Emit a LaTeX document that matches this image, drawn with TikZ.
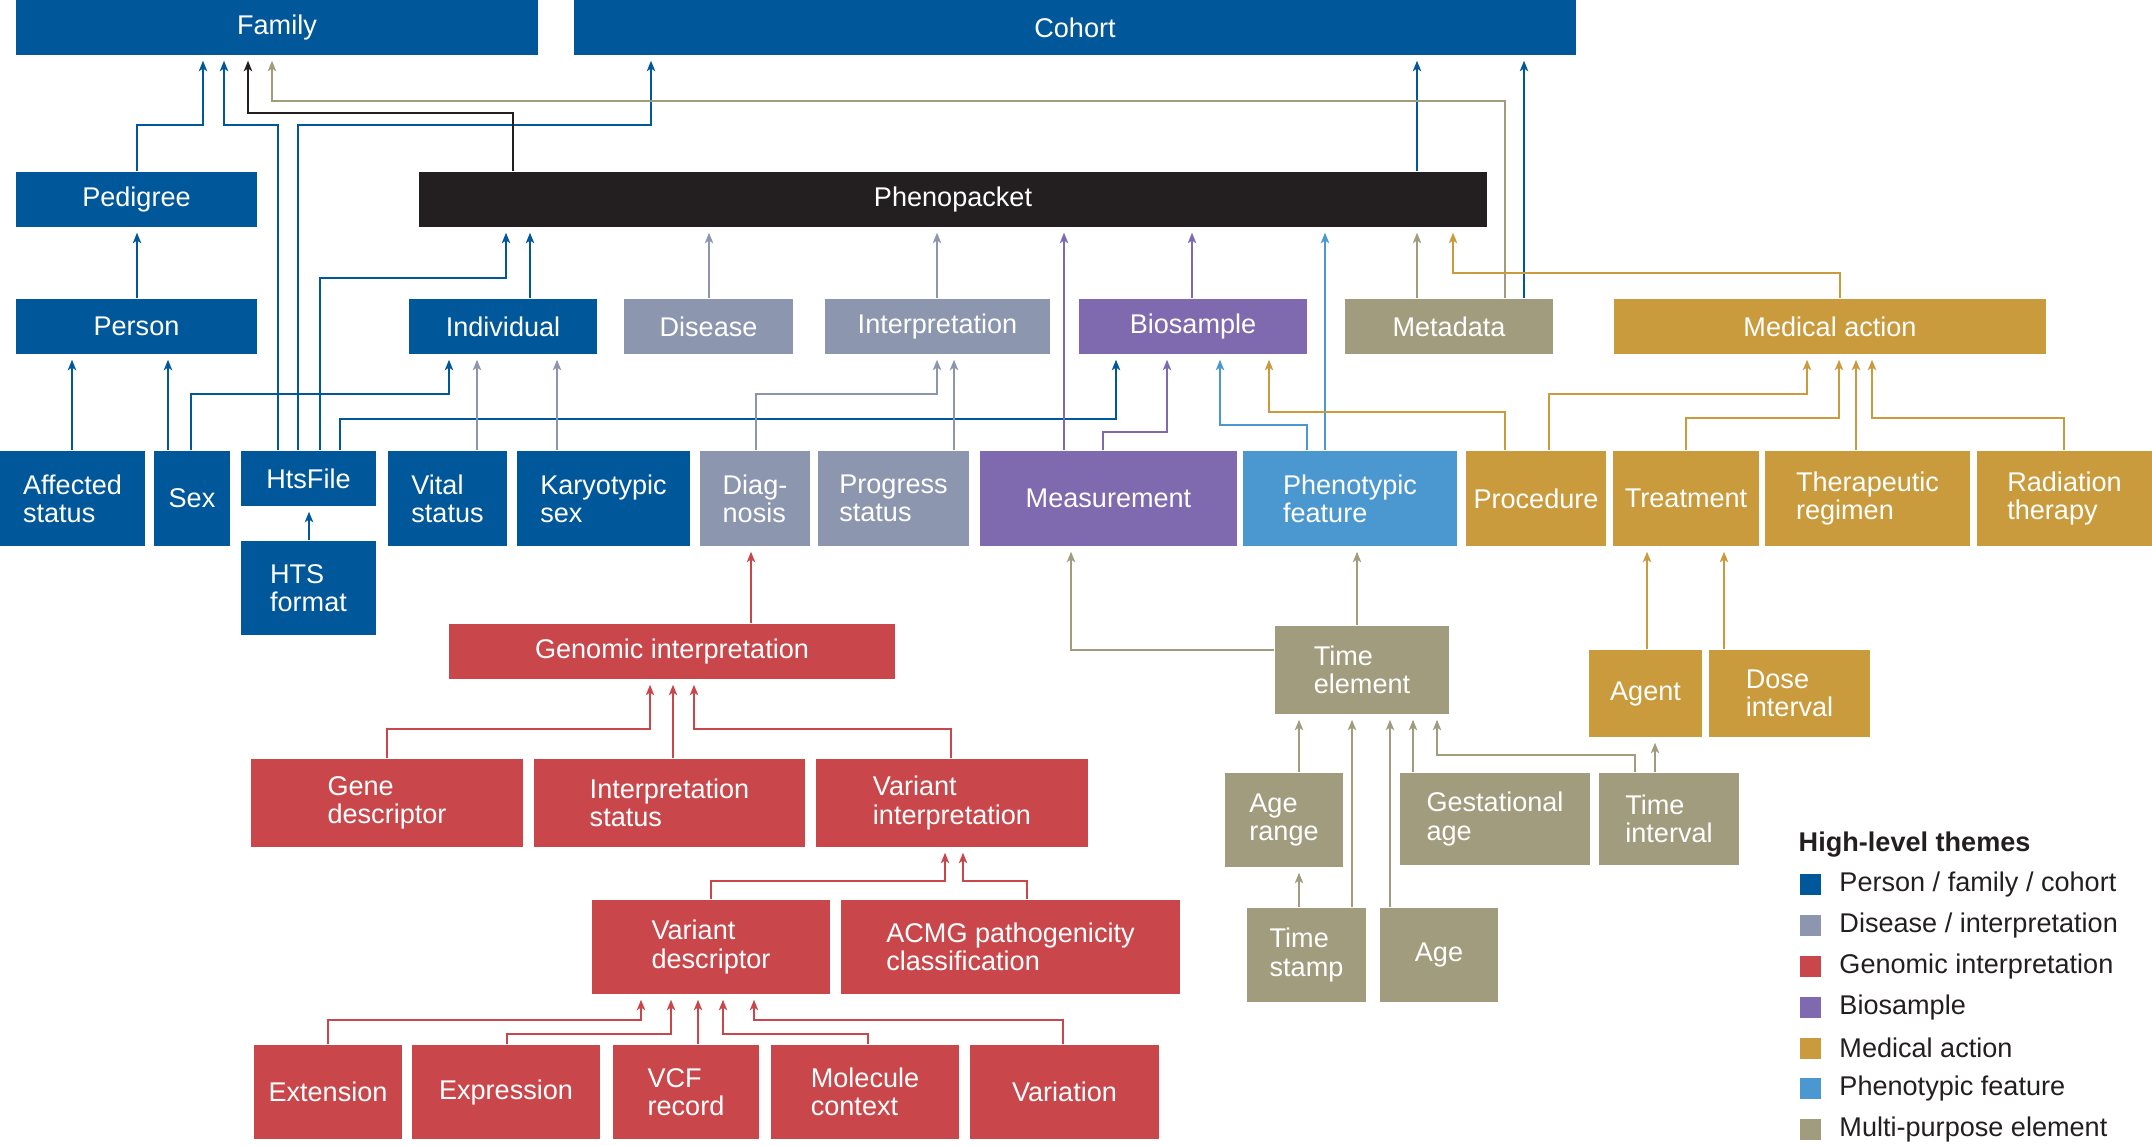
\documentclass[tikz,border=0pt]{standalone}
\usepackage{fontspec}
\setmainfont{Liberation Sans}
\usetikzlibrary{arrows.meta}
\definecolor{pfc}{HTML}{00579A}
\definecolor{dic}{HTML}{8C96AF}
\definecolor{gic}{HTML}{C9474B}
\definecolor{bsc}{HTML}{7F69AF}
\definecolor{mac}{HTML}{C99B3D}
\definecolor{phc}{HTML}{4B98D0}
\definecolor{mpc}{HTML}{A19C7D}
\definecolor{ppc}{HTML}{231F20}
\newcommand{\boxfont}{\fontsize{7.7pt}{8pt}\selectfont}
\tikzset{
  box/.style={text=white, align=left, inner sep=0pt, font=\boxfont},
  arr/.style={-{Stealth[length=3pt, width=2.4pt, inset=0.8pt]}, line width=0.5pt, shorten >=0.05cm},
}

\begin{document}
\begin{tikzpicture}[x=0.01cm, y=-0.01cm]
  \useasboundingbox (0,0) rectangle (2152,1145);
  \node[box, fill=pfc, minimum width=5.22cm, minimum height=.55cm] (family) at (277,27.5) {Family};
  \node[box, fill=pfc, minimum width=10.02cm, minimum height=.55cm] (cohort) at (1075,27.5) {Cohort};
  \node[box, fill=pfc, minimum width=2.41cm, minimum height=.55cm] (pedigree) at (136.5,199.5) {Pedigree};
  \node[box, fill=ppc, minimum width=10.68cm, minimum height=.55cm] (phenopacket) at (953,199.5) {Phenopacket};
  \node[box, fill=pfc, minimum width=2.41cm, minimum height=.55cm] (person) at (136.5,326.5) {Person};
  \node[box, fill=pfc, minimum width=1.88cm, minimum height=.55cm] (individual) at (503,326.5) {Individual};
  \node[box, fill=dic, minimum width=1.69cm, minimum height=.55cm] (disease) at (708.5,326.5) {Disease};
  \node[box, fill=dic, minimum width=2.25cm, minimum height=.55cm] (interp) at (937.5,326.5) {Interpretation};
  \node[box, fill=bsc, minimum width=2.28cm, minimum height=.55cm] (biosample) at (1193,326.5) {Biosample};
  \node[box, fill=mpc, minimum width=2.08cm, minimum height=.55cm] (metadata) at (1449,326.5) {Metadata};
  \node[box, fill=mac, minimum width=4.32cm, minimum height=.55cm] (medaction) at (1830,326.5) {Medical action};
  \node[box, fill=pfc, minimum width=1.45cm, minimum height=.95cm] (affected) at (72.5,498.5) {Affected\\status};
  \node[box, fill=pfc, minimum width=0.76cm, minimum height=.95cm] (sex) at (192,498.5) {Sex};
  \node[box, fill=pfc, minimum width=1.35cm, minimum height=.55cm] (htsfile) at (308.5,478.5) {HtsFile};
  \node[box, fill=pfc, minimum width=1.35cm, minimum height=.94cm] (htsformat) at (308.5,588) {HTS\\format};
  \node[box, fill=pfc, minimum width=1.19cm, minimum height=.95cm] (vital) at (447.5,498.5) {Vital\\status};
  \node[box, fill=pfc, minimum width=1.73cm, minimum height=.95cm] (karyo) at (603.5,498.5) {Karyotypic\\sex};
  \node[box, fill=dic, minimum width=1.10cm, minimum height=.95cm] (diagnosis) at (755,498.5) {Diag-\\nosis};
  \node[box, fill=dic, minimum width=1.51cm, minimum height=.95cm] (progress) at (893.5,498.5) {Progress\\status};
  \node[box, fill=bsc, minimum width=2.57cm, minimum height=.95cm] (measurement) at (1108.5,498.5) {Measurement};
  \node[box, fill=phc, minimum width=2.14cm, minimum height=.95cm] (phenofeat) at (1350,498.5) {Phenotypic\\feature};
  \node[box, fill=mac, minimum width=1.40cm, minimum height=.95cm] (procedure) at (1536,498.5) {Procedure};
  \node[box, fill=mac, minimum width=1.46cm, minimum height=.95cm] (treatment) at (1686,498.5) {Treatment};
  \node[box, fill=mac, minimum width=2.05cm, minimum height=.95cm] (therapeutic) at (1867.5,498.5) {Therapeutic\\regimen};
  \node[box, fill=mac, minimum width=1.75cm, minimum height=.95cm] (radiation) at (2064.5,498.5) {Radiation\\therapy};
  \node[box, fill=gic, minimum width=4.46cm, minimum height=.55cm] (genomic) at (672,651.5) {Genomic interpretation};
  \node[box, fill=mpc, minimum width=1.74cm, minimum height=.88cm] (timeelem) at (1362,670) {Time\\element};
  \node[box, fill=mac, minimum width=1.13cm, minimum height=.87cm] (agent) at (1645.5,693.5) {Agent};
  \node[box, fill=mac, minimum width=1.61cm, minimum height=.87cm] (dose) at (1789.5,693.5) {Dose\\interval};
  \node[box, fill=gic, minimum width=2.72cm, minimum height=.88cm] (genedesc) at (387,803) {Gene\\descriptor};
  \node[box, fill=gic, minimum width=2.71cm, minimum height=.88cm] (interpstatus) at (669.5,803) {Interpretation\\status};
  \node[box, fill=gic, minimum width=2.72cm, minimum height=.88cm] (variantinterp) at (952,803) {Variant\\interpretation};
  \node[box, fill=mpc, minimum width=1.18cm, minimum height=.94cm] (agerange) at (1284,820) {Age\\range};
  \node[box, fill=mpc, minimum width=1.90cm, minimum height=.92cm] (gestational) at (1495,819) {Gestational\\age};
  \node[box, fill=mpc, minimum width=1.40cm, minimum height=.92cm] (timeinterval) at (1669,819) {Time\\interval};
  \node[box, fill=gic, minimum width=2.38cm, minimum height=.94cm] (variantdesc) at (711,947) {Variant\\descriptor};
  \node[box, fill=gic, minimum width=3.39cm, minimum height=.94cm] (acmg) at (1010.5,947) {ACMG pathogenicity\\classification};
  \node[box, fill=mpc, minimum width=1.19cm, minimum height=.94cm] (timestamp) at (1306.5,955) {Time\\stamp};
  \node[box, fill=mpc, minimum width=1.18cm, minimum height=.94cm] (age) at (1439,955) {Age};
  \node[box, fill=gic, minimum width=1.48cm, minimum height=.94cm] (extension) at (328,1092) {Extension};
  \node[box, fill=gic, minimum width=1.88cm, minimum height=.94cm] (expression) at (506,1092) {Expression};
  \node[box, fill=gic, minimum width=1.46cm, minimum height=.94cm] (vcf) at (686,1092) {VCF\\record};
  \node[box, fill=gic, minimum width=1.88cm, minimum height=.94cm] (molecule) at (865,1092) {Molecule\\context};
  \node[box, fill=gic, minimum width=1.89cm, minimum height=.94cm] (variation) at (1064.5,1092) {Variation};
  \draw[arr, pfc] (72,0 |- affected.north) -- (72,0 |- person.south); \draw[arr, pfc] (168,0 |- sex.north) -- (168,0 |- person.south);
  \draw[arr, pfc] (191,0 |- sex.north) -- (191,394) -| (449,0 |- individual.south); \draw[arr, pfc] (137,0 |- person.north) -- (137,0 |- pedigree.south);
  \draw[arr, pfc] (137,0 |- pedigree.north) -- (137,125) -| (203,0 |- family.south); \draw[arr, pfc] (278,0 |- htsfile.north) -- (278,125) -| (224,0 |- family.south);
  \draw[arr, pfc] (298,0 |- htsfile.north) -- (298,125) -| (651,0 |- cohort.south); \draw[arr, pfc] (320,0 |- htsfile.north) -- (320,278) -| (506,0 |- phenopacket.south);
  \draw[arr, pfc] (340,0 |- htsfile.north) -- (340,419) -| (1116,0 |- biosample.south); \draw[arr, pfc] (309,0 |- htsformat.north) -- (309,0 |- htsfile.south);
  \draw[arr, pfc] (530,0 |- individual.north) -- (530,0 |- phenopacket.south); \draw[arr, pfc] (1417,0 |- phenopacket.north) -- (1417,0 |- cohort.south);
  \draw[arr, pfc] (1524,0 |- metadata.north) -- (1524,0 |- cohort.south);
  \draw[arr, dic] (477,0 |- vital.north) -- (477,0 |- individual.south); \draw[arr, dic] (557,0 |- karyo.north) -- (557,0 |- individual.south);
  \draw[arr, dic] (709,0 |- disease.north) -- (709,0 |- phenopacket.south); \draw[arr, dic] (937,0 |- interp.north) -- (937,0 |- phenopacket.south);
  \draw[arr, dic] (756,0 |- diagnosis.north) -- (756,394) -| (937,0 |- interp.south); \draw[arr, dic] (954,0 |- progress.north) -- (954,0 |- interp.south);
  \draw[arr, ppc] (513,0 |- phenopacket.north) -- (513,113) -| (248,0 |- family.south);
  \draw[arr, mpc] (1505,0 |- metadata.north) -- (1505,101) -| (272,0 |- family.south); \draw[arr, mpc] (1417,0 |- metadata.north) -- (1417,0 |- phenopacket.south);
  \draw[arr, mpc] (timeelem.west |- 0,650) -| (1071,0 |- measurement.south); \draw[arr, mpc] (1357,0 |- timeelem.north) -- (1357,0 |- phenofeat.south);
  \draw[arr, mpc] (1299,0 |- agerange.north) -- (1299,0 |- timeelem.south); \draw[arr, mpc] (1299,0 |- timestamp.north) -- (1299,0 |- agerange.south);
  \draw[arr, mpc] (1352,0 |- timestamp.north) -- (1352,0 |- timeelem.south); \draw[arr, mpc] (1390,0 |- age.north) -- (1390,0 |- timeelem.south);
  \draw[arr, mpc] (1413,0 |- gestational.north) -- (1413,0 |- timeelem.south); \draw[arr, mpc] (1635,0 |- timeinterval.north) -- (1635,755) -| (1437,0 |- timeelem.south);
  \draw[arr, mpc] (1655,0 |- timeinterval.north) -- (1655,0 |- agent.south);
  \draw[arr, bsc] (1064,0 |- measurement.north) -- (1064,0 |- phenopacket.south); \draw[arr, bsc] (1103,0 |- measurement.north) -- (1103,432) -| (1167,0 |- biosample.south);
  \draw[arr, bsc] (1192,0 |- biosample.north) -- (1192,0 |- phenopacket.south);
  \draw[arr, phc] (1325,0 |- phenofeat.north) -- (1325,0 |- phenopacket.south); \draw[arr, phc] (1307,0 |- phenofeat.north) -- (1307,425) -| (1220,0 |- biosample.south);
  \draw[arr, mac] (1840,0 |- medaction.north) -- (1840,273) -| (1453,0 |- phenopacket.south); \draw[arr, mac] (1505,0 |- procedure.north) -- (1505,412) -| (1269,0 |- biosample.south);
  \draw[arr, mac] (1549,0 |- procedure.north) -- (1549,394) -| (1807,0 |- medaction.south); \draw[arr, mac] (1686,0 |- treatment.north) -- (1686,418) -| (1839,0 |- medaction.south);
  \draw[arr, mac] (1856,0 |- therapeutic.north) -- (1856,0 |- medaction.south); \draw[arr, mac] (2064,0 |- radiation.north) -- (2064,418) -| (1872,0 |- medaction.south);
  \draw[arr, mac] (1647,0 |- agent.north) -- (1647,0 |- treatment.south); \draw[arr, mac] (1724,0 |- dose.north) -- (1724,0 |- treatment.south);
  \draw[arr, gic] (751,0 |- genomic.north) -- (751,0 |- diagnosis.south); \draw[arr, gic] (387,0 |- genedesc.north) -- (387,729) -| (650,0 |- genomic.south);
  \draw[arr, gic] (673,0 |- interpstatus.north) -- (673,0 |- genomic.south); \draw[arr, gic] (951,0 |- variantinterp.north) -- (951,729) -| (694,0 |- genomic.south);
  \draw[arr, gic] (711,0 |- variantdesc.north) -- (711,881) -| (945,0 |- variantinterp.south); \draw[arr, gic] (1027,0 |- acmg.north) -- (1027,881) -| (963,0 |- variantinterp.south);
  \draw[arr, gic] (328,0 |- extension.north) -- (328,1020) -| (641,0 |- variantdesc.south); \draw[arr, gic] (507,0 |- expression.north) -- (507,1034) -| (671,0 |- variantdesc.south);
  \draw[arr, gic] (698,0 |- vcf.north) -- (698,0 |- variantdesc.south); \draw[arr, gic] (868,0 |- molecule.north) -- (868,1034) -| (723,0 |- variantdesc.south);
  \draw[arr, gic] (1063,0 |- variation.north) -- (1063,1020) -| (754,0 |- variantdesc.south);
  \node[font=\boxfont\bfseries, text=ppc, anchor=west, inner sep=0pt] (lgtitle) at (1798,845) {High-level themes};
  \foreach \c/\t/\y [count=\i] in {pfc/{Person / family / cohort}/884, dic/{Disease / interpretation}/925, gic/{Genomic interpretation}/966, bsc/{Biosample}/1007, mac/{Medical action}/1048, phc/{Phenotypic feature}/1088, mpc/{Multi-purpose element}/1129}
    \node[fill=\c, minimum size=0.21cm, inner sep=0pt, label={[font=\boxfont, text=ppc, inner sep=0pt, xshift=0.17cm]east:\t}] (lg\i) at (1810.5,\y) {};
\end{tikzpicture}
\end{document}
